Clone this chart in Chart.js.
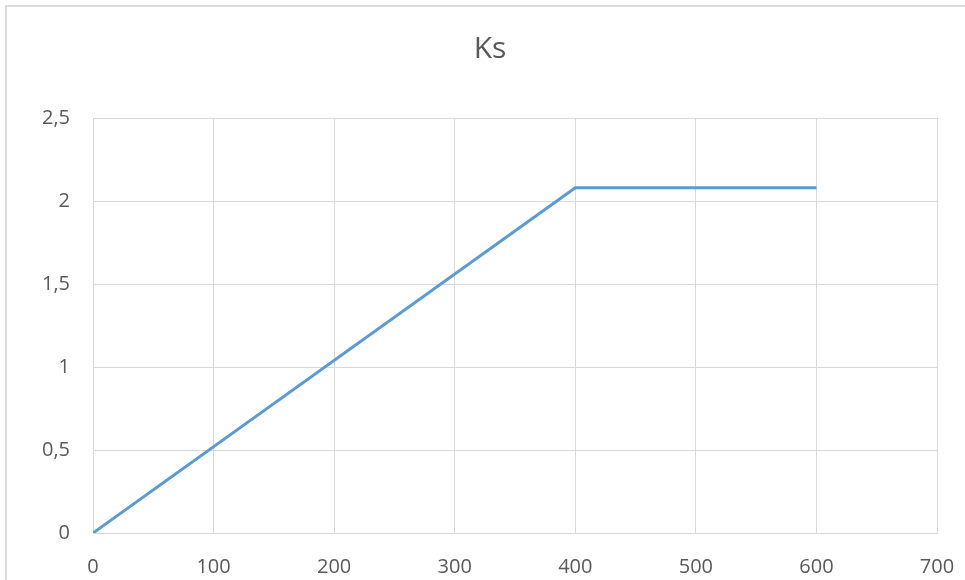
<!DOCTYPE html>
<html>
<head>
<meta charset="utf-8">
<script src="https://cdn.jsdelivr.net/npm/chart.js@4/dist/chart.umd.min.js"></script>
<style>
  html, body { margin: 0; padding: 0; background: #fff; overflow: hidden; }
  #frame { position: absolute; left: 5px; top: 5px; width: 980px; height: 600px; border: 2px solid #dcdcdc; }
  #wrap { position: absolute; left: 0; top: 0; width: 965px; height: 580px; }
</style>
</head>
<body>
<div id="frame"></div>
<div id="wrap"><canvas id="myChart" width="965" height="580"></canvas></div>
<script>
// Ks curve
const xValues = [0, 400, 600];
const ksValues = [0, 2.08, 2.08];
const xTicks = [0, 100, 200, 300, 400, 500, 600, 700];
const yTicks = [0, 0.5, 1, 1.5, 2, 2.5];

const points = xValues.map((x, i) => ({ x: x, y: ksValues[i] }));
const labelColor = '#595959';
const gridColor = '#d9d9d9';

new Chart(document.getElementById('myChart'), {
    type: 'scatter',
    data: {
        datasets: [{
            label: 'Ks',
            data: points,
            showLine: true,
            borderColor: '#5b9bd5',
            borderWidth: 3,
            pointRadius: 0,
            tension: 0
        }]
    },
    options: {
        responsive: false,
        animation: false,
        layout: { padding: { left: 15, right: 0, top: 0, bottom: 0 } },
        plugins: {
            legend: { display: false },
            tooltip: { enabled: false },
            title: {
                display: true,
                text: 'Ks',
                color: labelColor,
                font: { family: 'Open Sans', size: 30, weight: 'normal' },
                padding: { top: 31, bottom: 51 }
            }
        },
        scales: {
            x: {
                type: 'linear',
                min: 0,
                max: 700,
                afterBuildTicks: (scale) => { scale.ticks = xTicks.map(v => ({ value: v })); },
                afterFit: (scale) => {
                    scale.height = 47;
                    scale.paddingRight = 28;
                },
                grid: { color: gridColor, lineWidth: 1, drawTicks: false },
                border: { color: gridColor },
                ticks: {
                    color: labelColor,
                    padding: 22,
                    font: { family: 'Open Sans', size: 20 }
                }
            },
            y: {
                min: 0,
                max: 2.5,
                afterBuildTicks: (scale) => { scale.ticks = yTicks.map(v => ({ value: v })); },
                afterFit: (scale) => { scale.width = 78; },
                grid: { color: gridColor, lineWidth: 1, drawTicks: false },
                border: { display: false },
                ticks: {
                    color: labelColor,
                    padding: 23,
                    font: { family: 'Open Sans', size: 20 },
                    callback: (v) => String(v).replace('.', ',')
                }
            }
        }
    }
});
</script>
</body>
</html>
